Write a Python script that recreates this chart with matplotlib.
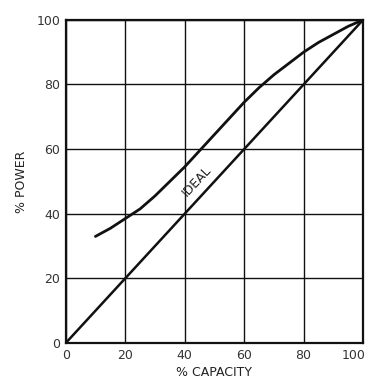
import numpy as np
from matplotlib import pyplot as plt
from matplotlib.transforms import ScaledTranslation

# % capacity vs % power
capacity = [10, 15, 20, 25, 30, 35, 40, 45, 50, 55, 60, 65, 70, 75, 80, 85, 90, 95, 100]
power = [33, 35.5, 38.5, 41.5, 45.5, 50, 54.5, 59.5, 64.5, 69.5, 74.5, 79, 83, 86.5, 90, 93, 95.5, 98, 100]
ideal_x = [0, 100]
ideal_y = [0, 100]
ticks = [0, 20, 40, 60, 80, 100]


def main():
    fig = plt.figure(figsize=(3.69, 3.89), dpi=100)
    ax = fig.add_axes([0.178, 0.118, 0.806, 0.831])

    ax.plot(capacity, power, color='#111111', lw=2.0, solid_capstyle='round')
    ax.plot(ideal_x, ideal_y, color='#111111', lw=1.8)

    ax.set_xlim(0, 100)
    ax.set_ylim(0, 100)
    ax.set_xticks(ticks)
    ax.set_yticks(ticks)
    ax.grid(True, color='#111111', lw=1.0)
    ax.tick_params(length=0, labelsize=9, colors='#333333', pad=4)
    for s in ax.spines.values():
        s.set_linewidth(1.6)
        s.set_color('#111111')

    # last x label sits at the right edge; nudge it in so it stays readable
    last = ax.get_xticklabels()[-1]
    last.set_transform(last.get_transform() + ScaledTranslation(-0.09, 0, fig.dpi_scale_trans))

    ax.set_xlabel('% CAPACITY', fontsize=9, color='#222222', labelpad=3)
    ax.set_ylabel('% POWER', fontsize=9, color='#222222', labelpad=6)

    ax.text(44, 50, 'IDEAL', rotation=47, fontsize=9, color='#222222',
            ha='center', va='center', rotation_mode='anchor')

    fig.savefig('out.png', dpi=100)


if __name__ == '__main__':
    main()
